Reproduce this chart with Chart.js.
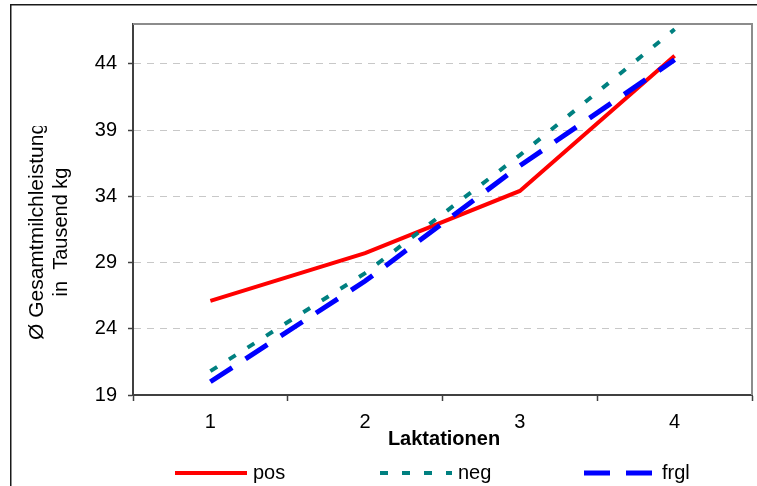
<!DOCTYPE html>
<html><head><meta charset="utf-8">
<script src="https://cdn.jsdelivr.net/npm/chart.js@4/dist/chart.umd.min.js"></script>
<style>html,body{margin:0;padding:0;background:#fff;overflow:hidden}#wrap{width:757px;height:486px;position:relative}canvas{display:block}</style>
</head><body><div id="wrap"><canvas id="c" width="757" height="486"></canvas></div>
<script>
const categories = ['1', '2', '3', '4'];
const posValues = [26.1, 29.7, 34.4, 44.6];
const negValues = [20.8, 28.2, 37.1, 46.6];
const frglValues = [20.0, 27.6, 36.3, 44.3];
const yTicks = [19, 24, 29, 34, 39, 44];
const seriesNames = ['pos', 'neg', 'frgl'];
const xTitle = 'Laktationen';
const yTitleLines = ['Ø Gesamtmilchleistung', 'in  Tausend kg'];

const FONT = '"Liberation Sans", Arial, sans-serif';

const legendPos = [175, 380, 584];

const decor = {
  id: 'decor',
  afterDraw(chart) {
    const ctx = chart.ctx;
    const a = chart.chartArea;
    ctx.save();
    // plot border top/right
    ctx.strokeStyle = '#8c8c8c';
    ctx.lineWidth = 2;
    ctx.beginPath();
    ctx.moveTo(a.left, a.top);
    ctx.lineTo(a.right, a.top);
    ctx.lineTo(a.right, a.bottom);
    ctx.stroke();
    // outer frame
    ctx.strokeStyle = '#1a1a1a';
    ctx.lineWidth = 1.5;
    ctx.strokeRect(10.75, 4.75, 900, 700);
    // x title
    ctx.fillStyle = '#000';
    ctx.font = 'bold 20px ' + FONT;
    ctx.textAlign = 'center';
    ctx.textBaseline = 'middle';
    ctx.fillText(xTitle, 444, 439);
    // y title
    ctx.save();
    ctx.beginPath();
    ctx.rect(0, 126, 130, 300);
    ctx.clip();
    ctx.translate(37, 232);
    ctx.rotate(-Math.PI / 2);
    ctx.font = '21px ' + FONT;
    ctx.textAlign = 'left';
    ctx.fillText(yTitleLines[0], -108, 0);
    ctx.textAlign = 'center';
    ctx.font = '20px ' + FONT;
    ctx.fillText(yTitleLines[1], 0, 24);
    ctx.restore();
    // legend
    chart.data.datasets.forEach((ds, i) => {
      const x0 = legendPos[i];
      ctx.save();
      ctx.strokeStyle = ds.borderColor;
      ctx.lineWidth = ds.borderWidth;
      ctx.lineCap = 'butt';
      ctx.setLineDash(ds.borderDash || []);
      ctx.beginPath();
      ctx.moveTo(x0, 473);
      ctx.lineTo(x0 + 72, 473);
      ctx.stroke();
      ctx.restore();
      ctx.fillStyle = '#000';
      ctx.font = '20px ' + FONT;
      ctx.textAlign = 'left';
      ctx.textBaseline = 'middle';
      ctx.fillText(ds.label, x0 + 78, 473);
    });
    ctx.restore();
  }
};

new Chart(document.getElementById('c'), {
  type: 'line',
  data: {
    labels: categories,
    datasets: [
      { label: seriesNames[0], data: posValues, borderColor: '#ff0000', borderWidth: 4, borderDash: [], order: 2 },
      { label: seriesNames[1], data: negValues, borderColor: '#008080', borderWidth: 4, borderDash: [8, 14], order: 1 },
      { label: seriesNames[2], data: frglValues, borderColor: '#0000ff', borderWidth: 5, borderDash: [26, 16], order: 0 }
    ].map(d => Object.assign({ fill: false, tension: 0, pointRadius: 0, borderCapStyle: 'butt', borderJoinStyle: 'miter' }, d))
  },
  options: {
    responsive: false,
    animation: false,
    devicePixelRatio: 1,
    layout: { padding: { top: 24, right: 5, left: 0, bottom: 0 } },
    plugins: { legend: { display: false }, tooltip: { enabled: false } },
    scales: {
      x: {
        type: 'category',
        offset: true,
        grid: { offset: true, drawOnChartArea: false, drawTicks: true, tickLength: 6, tickColor: '#404040', tickWidth: 1.5 },
        border: { display: true, color: '#404040', width: 2 },
        ticks: { color: '#000', font: { family: FONT, size: 20 }, padding: 9, maxRotation: 0 },
        afterFit: s => { s.height = 91; }
      },
      y: {
        min: 19, max: 47,
        afterBuildTicks: s => { s.ticks = yTicks.map(v => ({ value: v })); },
        grid: { color: '#c8c8c8', lineWidth: 1, drawTicks: true, tickLength: 5, tickColor: '#404040', tickWidth: 1.5 },
        border: { display: true, color: '#404040', width: 2, dash: [7, 6] },
        ticks: { color: '#000', font: { family: FONT, size: 20 }, padding: 11 },
        afterFit: s => { s.width = 133; }
      }
    }
  },
  plugins: [decor]
});
</script>
</body></html>
